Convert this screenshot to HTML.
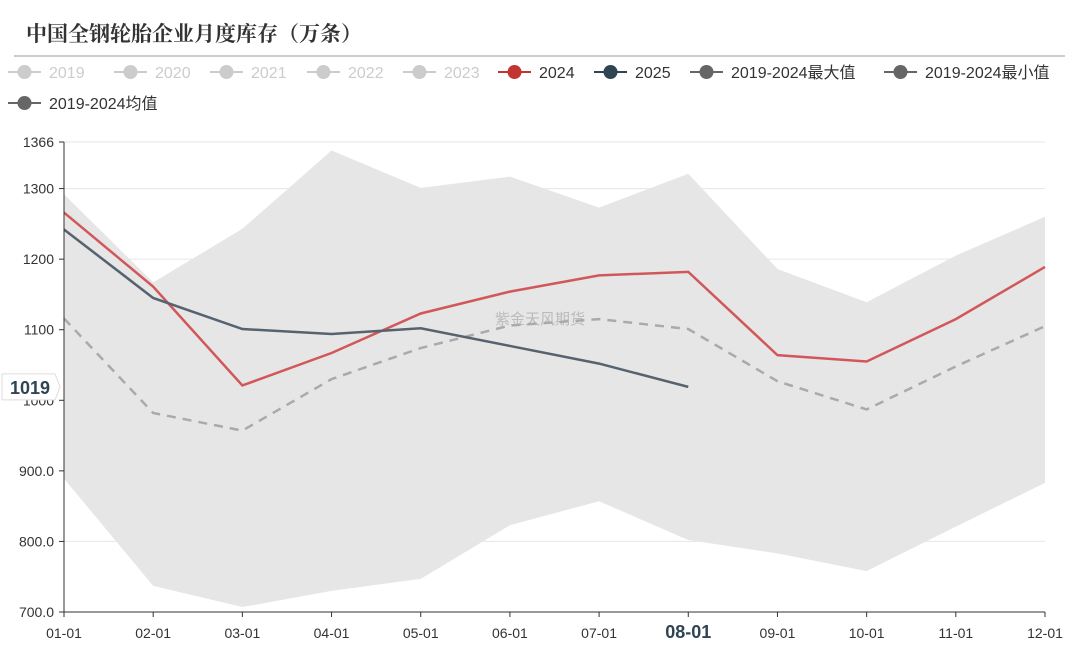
<!DOCTYPE html>
<html><head><meta charset="utf-8">
<style>
body{margin:0;background:#fff;width:1080px;height:648px;overflow:hidden;font-family:"Liberation Sans","Noto Sans CJK SC",sans-serif;}
</style></head>
<body>
<svg id="chart" width="1080" height="648" xmlns="http://www.w3.org/2000/svg">
<text x="26" y="41" font-family="'Liberation Serif','Noto Serif CJK SC',serif" font-weight="bold" font-size="21" fill="#333">中国全钢轮胎企业月度库存（万条）</text>
<rect x="14" y="55" width="1051" height="2" fill="#ccc"/>
<g id="legend"></g>
<g id="grid"></g><g id="band"></g>
<text x="540" y="324" text-anchor="middle" font-size="15" fill="#bbb">紫金天风期货</text>
<g id="lines"></g><g id="axes"></g>
</svg>
<script>
const categories=["01-01","02-01","03-01","04-01","05-01","06-01","07-01","08-01","09-01","10-01","11-01","12-01"];
const s2024=[1266,1161,1021,1067,1123,1154,1177,1182,1064,1055,1115,1189];
const s2025=[1242,1145,1101,1094,1102,1077,1052,1019];
const sAvg=[1116,982,957,1030,1074,1106,1115,1101,1027,987,1048,1105];
const sMax=[1292,1167,1243,1354,1301,1317,1273,1321,1186,1139,1205,1260];
const sMin=[889,737,707,730,747,823,857,802,783,758,821,883];
const yTicks=[700,800,900,1000,1100,1200,1300,1366];
const yTickLabels=["700.0","800.0","900.0","1000","1100","1200","1300","1366"];
const legendNames=["2019","2020","2021","2022","2023","2024","2025","2019-2024最大值","2019-2024最小值","2019-2024均值"];
const legendColors=["#ccc","#ccc","#ccc","#ccc","#ccc","#c23531","#2f4554","#666","#666","#666"];
const yMin=700,yMax=1366,plotTop=142,plotBot=612,plotLeft=64,plotRight=1045;
const NS="http://www.w3.org/2000/svg";
const X=i=>plotLeft+i*(plotRight-plotLeft)/(categories.length-1);
const Y=v=>plotBot-(v-yMin)/(yMax-yMin)*(plotBot-plotTop);
function mk(t,a,p){const e=document.createElementNS(NS,t);for(const k in a)e.setAttribute(k,a[k]);p.appendChild(e);return e;}
const grid=document.getElementById('grid'),axes=document.getElementById('axes'),band=document.getElementById('band'),lines=document.getElementById('lines'),legend=document.getElementById('legend');
yTicks.forEach((v,i)=>{
 const g=mk('line',{x1:plotLeft,x2:plotRight,y1:Y(v),y2:Y(v),stroke:'#e6e6e6'},grid);
 
 
 mk('line',{x1:plotLeft-5,x2:plotLeft,y1:Y(v),y2:Y(v),stroke:'#333'},axes);
 const t=mk('text',{x:plotLeft-10,y:Y(v)+5,'text-anchor':'end','font-size':14,fill:'#333'},axes);
 t.textContent=yTickLabels[i];
 
 
});
let d='M'+sMax.map((v,i)=>X(i)+','+Y(v)).join('L');
for(let i=sMin.length-1;i>=0;i--)d+='L'+X(i)+','+Y(sMin[i]);
const b=mk('path',{d:d+'Z',fill:'#e6e6e6'},band);


function line(arr,col,w,dash,name){
 const p=mk('polyline',{points:arr.map((v,i)=>X(i)+','+Y(v)).join(' '),fill:'none',stroke:col,'stroke-width':w,'stroke-dasharray':dash||'none'},lines);
 
 
}
line(sAvg,'#aaa',2.5,'9,7','avg-line');
line(s2024,'#d1585a',2.5,null,'line-2024');
line(s2025,'#56636e',2.5,null,'line-2025');
mk('line',{x1:plotLeft,x2:plotLeft,y1:plotTop,y2:plotBot,stroke:'#333'},axes);
mk('line',{x1:plotLeft,x2:plotRight,y1:plotBot,y2:plotBot,stroke:'#333'},axes);
categories.forEach((c,i)=>{
 mk('line',{x1:X(i),x2:X(i),y1:plotBot,y2:plotBot+5,stroke:'#333'},axes);
 const hl=i===7;
 const t=mk('text',{x:X(i),y:638,'text-anchor':'middle','font-size':hl?18:14,'font-weight':hl?'bold':'normal',fill:hl?'#2f4554':'#333'},axes);
 t.textContent=c;
 
 
});
const lv=s2025[s2025.length-1];
const lb=mk('path',{d:`M2,${Y(lv)-13}H55L60,${Y(lv)}L55,${Y(lv)+13}H2Z`,fill:'#fff',stroke:'#ddd'},axes);


const lt=mk('text',{x:30,y:Y(lv)+7,'text-anchor':'middle','font-size':18,'font-weight':'bold',fill:'#2f4554'},axes);
lt.textContent=lv;


const pos=[[8,72],[114,72],[210,72],[307,72],[403,72],[498,72],[594,72],[690,72],[884,72],[8,103]];
legendNames.forEach((n,i)=>{
 const [x,y]=pos[i];
 const g=mk('g',{},legend);
 
 
 mk('line',{x1:x,x2:x+33,y1:y,y2:y,stroke:legendColors[i],'stroke-width':2},g);
 mk('circle',{cx:x+16.5,cy:y,r:7,fill:legendColors[i]},g);
 const t=mk('text',{x:x+41,y:y+6,'font-size':16,fill:i<5?'#ccc':'#333'},g);
 t.textContent=n;
});
</script>
</body></html>
